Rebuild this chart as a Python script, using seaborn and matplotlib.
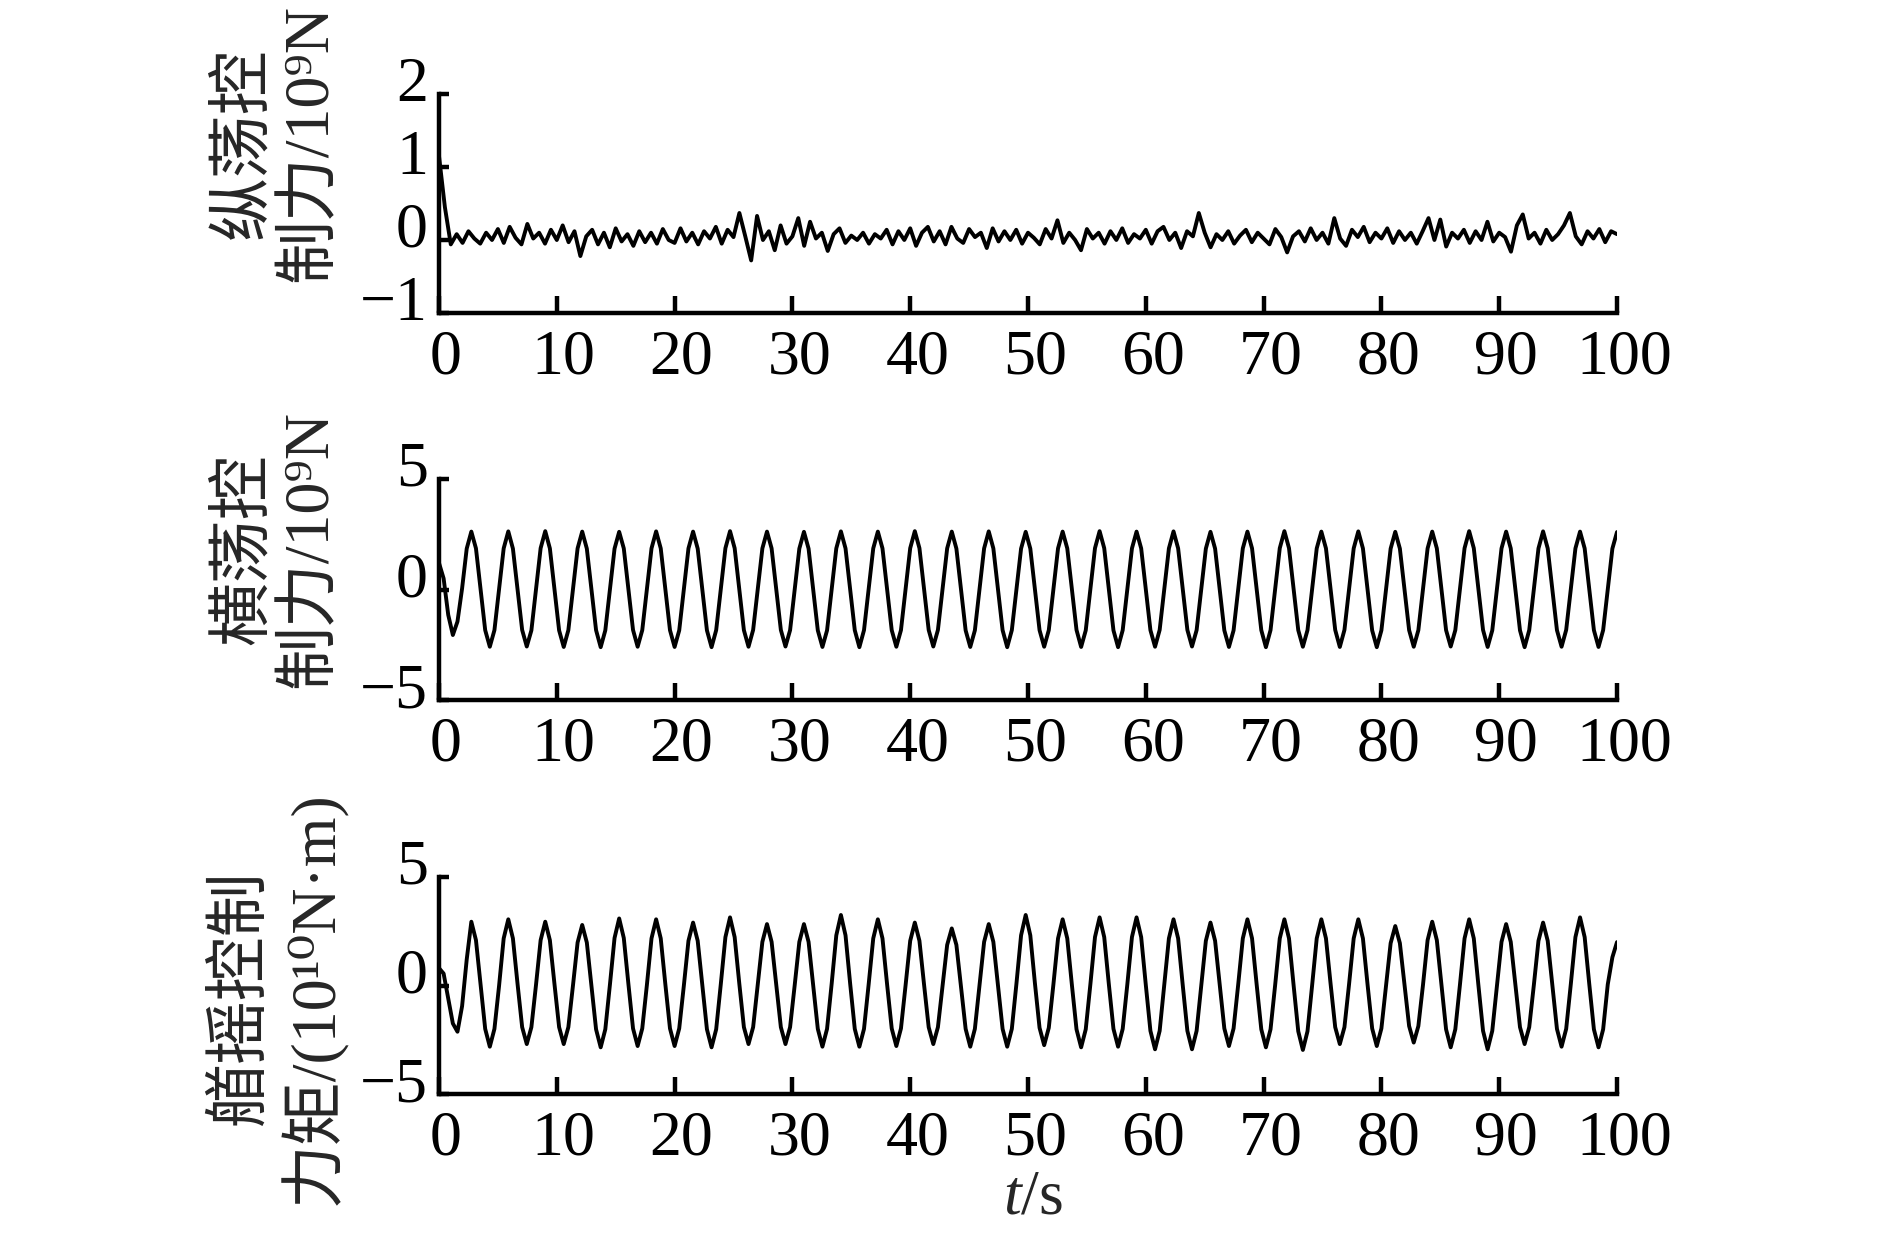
import numpy as np
import matplotlib
matplotlib.use("Agg")
import matplotlib.pyplot as plt
import seaborn as sns
from matplotlib.transforms import ScaledTranslation

# ------------------------------
# Data
# ------------------------------
# surge control force, 10^9 N, sampled every 0.5 s
t_surge = np.linspace(0, 100, 201)
surge_force = [
    1.15, 0.45, -0.06, 0.08, -0.04, 0.12, 0.02, -0.05, 0.10, 0.00, 0.15, -0.04, 0.18, 0.03, -0.06, 0.22, 0.02, 0.10, -0.05, 0.14,
    0.00, 0.20, -0.03, 0.12, -0.22, 0.05, 0.14, -0.06, 0.10, -0.10, 0.16, -0.02, 0.08, -0.08, 0.12, -0.03, 0.10, -0.05, 0.15, 0.00,
    -0.04, 0.16, -0.02, 0.10, -0.06, 0.12, 0.02, 0.18, -0.05, 0.14, 0.04, 0.37, 0.05, -0.28, 0.33, 0.00, 0.12, -0.14, 0.20, -0.05,
    0.05, 0.30, -0.08, 0.25, 0.02, 0.10, -0.15, 0.08, 0.16, -0.04, 0.06, 0.00, 0.10, -0.05, 0.08, 0.02, 0.14, -0.06, 0.12, 0.00,
    0.16, -0.08, 0.10, 0.18, -0.02, 0.12, -0.06, 0.18, 0.02, -0.04, 0.15, 0.04, 0.10, -0.11, 0.16, -0.02, 0.12, 0.00, 0.14, -0.05,
    0.10, 0.03, -0.06, 0.15, 0.02, 0.27, -0.04, 0.10, 0.00, -0.14, 0.15, 0.02, 0.10, -0.05, 0.12, 0.00, 0.16, -0.04, 0.08, 0.02,
    0.14, -0.05, 0.12, 0.18, 0.00, 0.10, -0.11, 0.12, 0.05, 0.37, 0.10, -0.10, 0.08, 0.00, 0.12, -0.05, 0.06, 0.14, -0.03, 0.10,
    0.02, -0.06, 0.15, 0.04, -0.17, 0.05, 0.12, -0.02, 0.16, 0.00, 0.10, -0.05, 0.30, 0.02, -0.08, 0.14, 0.04, 0.18, -0.03, 0.10,
    0.02, 0.16, -0.04, 0.12, 0.00, 0.10, -0.05, 0.12, 0.30, 0.00, 0.28, -0.09, 0.10, 0.02, 0.14, -0.04, 0.12, 0.00, 0.25, -0.02,
    0.10, 0.04, -0.16, 0.20, 0.35, 0.02, 0.10, -0.05, 0.14, 0.00, 0.08, 0.20, 0.37, 0.05, -0.06, 0.12, 0.02, 0.15, -0.03, 0.12,
    0.08,
]

# sway force (10^9 N) and yaw moment (10^10 N.m), 256 samples over 100 s
t_wave = np.linspace(0, 100, 256)
sway_force = [
    1.20, 0.50, -1.15, -2.06, -1.45, 0.05, 1.85,
    2.62, 1.86, 0.02, -1.84, -2.59, -1.84, 0.00, 1.86,
    2.63, 1.85, 0.01, -1.83, -2.58, -1.85, 0.01, 1.87,
    2.64, 1.86, 0.00, -1.85, -2.60, -1.84, 0.02, 1.86,
    2.62, 1.85, 0.02, -1.84, -2.61, -1.85, 0.00, 1.85,
    2.61, 1.86, 0.01, -1.83, -2.59, -1.84, 0.01, 1.86,
    2.63, 1.86, 0.00, -1.84, -2.60, -1.85, 0.02, 1.86,
    2.62, 1.85, 0.01, -1.85, -2.61, -1.84, 0.00, 1.87,
    2.64, 1.87, 0.02, -1.84, -2.59, -1.83, 0.01, 1.86,
    2.62, 1.86, 0.01, -1.83, -2.58, -1.84, 0.00, 1.85,
    2.61, 1.85, 0.00, -1.85, -2.60, -1.85, 0.01, 1.86,
    2.63, 1.86, 0.02, -1.84, -2.61, -1.84, 0.02, 1.86,
    2.62, 1.86, 0.01, -1.84, -2.59, -1.84, 0.00, 1.87,
    2.64, 1.87, 0.01, -1.83, -2.58, -1.83, 0.01, 1.86,
    2.62, 1.85, 0.00, -1.85, -2.60, -1.85, 0.02, 1.86,
    2.63, 1.86, 0.02, -1.84, -2.61, -1.84, 0.01, 1.85,
    2.61, 1.85, 0.01, -1.84, -2.59, -1.84, 0.00, 1.86,
    2.62, 1.86, 0.00, -1.83, -2.60, -1.85, 0.01, 1.87,
    2.64, 1.87, 0.02, -1.85, -2.61, -1.84, 0.02, 1.86,
    2.62, 1.86, 0.01, -1.84, -2.59, -1.83, 0.00, 1.86,
    2.63, 1.86, 0.00, -1.83, -2.58, -1.84, 0.01, 1.85,
    2.61, 1.85, 0.01, -1.85, -2.60, -1.85, 0.01, 1.86,
    2.62, 1.86, 0.02, -1.84, -2.61, -1.84, 0.02, 1.87,
    2.64, 1.87, 0.01, -1.84, -2.59, -1.84, 0.00, 1.86,
    2.62, 1.86, 0.00, -1.83, -2.60, -1.83, 0.01, 1.86,
    2.63, 1.86, 0.01, -1.85, -2.61, -1.85, 0.02, 1.85,
    2.61, 1.85, 0.02, -1.84, -2.59, -1.84, 0.00, 1.86,
    2.62, 1.86, 0.00, -1.84, -2.58, -1.84, 0.01, 1.87,
    2.64, 1.87, 0.01, -1.83, -2.60, -1.85, 0.01, 1.86,
    2.62, 1.86, 0.02, -1.85, -2.61, -1.84, 0.02, 1.86,
    2.63, 1.86, 0.01, -1.84, -2.59, -1.83, 0.00, 1.86,
    2.62, 1.86, 0.00, -1.84, -2.60, -1.84, 0.01, 1.85,
    2.60,
]
yaw_moment = [
    0.80, 0.55, -0.60, -1.75, -2.13, -0.95, 1.20,
    2.94, 2.09, 0.05, -2.00, -2.82, -2.00, -0.02, 2.17,
    3.05, 2.17, 0.08, -1.92, -2.70, -1.92, 0.03, 2.09,
    2.94, 2.09, 0.06, -1.92, -2.70, -1.92, 0.00, 1.98,
    2.79, 1.98, -0.03, -2.02, -2.85, -2.02, 0.04, 2.19,
    3.09, 2.19, 0.07, -1.98, -2.79, -1.98, 0.02, 2.17,
    3.05, 2.17, 0.05, -1.98, -2.79, -1.98, -0.01, 2.06,
    2.90, 2.06, 0.01, -2.02, -2.85, -2.02, 0.06, 2.23,
    3.14, 2.23, 0.10, -1.92, -2.70, -1.92, 0.03, 2.01,
    2.83, 2.01, 0.04, -1.92, -2.70, -1.92, 0.02, 2.01,
    2.83, 2.01, 0.00, -2.00, -2.82, -2.00, 0.08, 2.31,
    3.25, 2.31, 0.09, -2.00, -2.82, -2.00, 0.04, 2.17,
    3.05, 2.17, 0.05, -1.98, -2.79, -1.98, 0.01, 2.06,
    2.90, 2.06, 0.04, -1.92, -2.70, -1.92, -0.02, 1.87,
    2.63, 1.87, -0.05, -2.00, -2.82, -2.00, 0.00, 2.01,
    2.83, 2.01, 0.00, -2.00, -2.82, -2.00, 0.09, 2.31,
    3.25, 2.31, 0.10, -1.95, -2.75, -1.95, 0.05, 2.17,
    3.05, 2.17, 0.03, -2.02, -2.85, -2.02, 0.05, 2.23,
    3.14, 2.23, 0.06, -2.00, -2.82, -2.00, 0.05, 2.23,
    3.14, 2.23, 0.03, -2.09, -2.94, -2.09, 0.02, 2.17,
    3.05, 2.17, 0.01, -2.09, -2.94, -2.09, -0.01, 2.06,
    2.90, 2.06, 0.03, -1.98, -2.79, -1.98, 0.04, 2.17,
    3.05, 2.17, 0.04, -2.02, -2.85, -2.02, 0.02, 2.17,
    3.05, 2.17, 0.00, -2.11, -2.97, -2.11, 0.00, 2.17,
    3.05, 2.17, 0.08, -1.92, -2.70, -1.92, 0.06, 2.17,
    3.05, 2.17, 0.05, -1.98, -2.79, -1.98, -0.02, 1.95,
    2.74, 1.95, 0.05, -1.87, -2.63, -1.87, 0.02, 2.09,
    2.94, 2.09, 0.02, -2.02, -2.85, -2.02, 0.03, 2.17,
    3.05, 2.17, 0.01, -2.09, -2.94, -2.09, -0.02, 2.01,
    2.83, 2.01, 0.04, -1.92, -2.70, -1.92, 0.02, 2.06,
    2.90, 2.06, 0.02, -2.00, -2.82, -2.00, 0.06, 2.23,
    3.14, 2.23, 0.06, -2.02, -2.85, -2.02, 0.05, 1.30,
    2.00,
]

x_ticks = [0, 10, 20, 30, 40, 50, 60, 70, 80, 90, 100]
panel_yticks = [[-1, 0, 1, 2], [-5, 0, 5], [-5, 0, 5]]
panel_ylabels = ["纵荡控\n制力/10⁹N", "横荡控\n制力/10⁹N", "艏摇控制\n力矩/(10¹⁰N·m)"]
x_label = "$t$/s"

# ------------------------------
# Style
# ------------------------------
sns.set_style("ticks")
plt.rcParams["font.family"] = ["Liberation Serif", "DejaVu Serif", "Noto Sans CJK SC"]
plt.rcParams["mathtext.fontset"] = "custom"
plt.rcParams["mathtext.rm"] = "Liberation Serif"
plt.rcParams["mathtext.it"] = "Liberation Serif:italic"

FS = 46        # tick labels
LFS = 46       # axis labels
W, H = 1890, 1243
fig = plt.figure(figsize=(W / 100, H / 100), dpi=100)

# axes boxes in pixels: (top, bottom)
left_px, right_px = 439, 1617
boxes = [(94, 313), (479, 700), (877, 1094)]
label_centers = [(278, 143), (278, 549), (280, 998)]
series = [(t_surge, surge_force), (t_wave, sway_force), (t_wave, yaw_moment)]

x_shift = ScaledTranslation(7 / 100, 0, fig.dpi_scale_trans)
y_shift = ScaledTranslation(0, 15 / 100, fig.dpi_scale_trans)

for i, (top, bot) in enumerate(boxes):
    ax = fig.add_axes([left_px / W, 1 - bot / H, (right_px - left_px) / W, (bot - top) / H])
    tt, yy = series[i]
    sns.lineplot(x=tt, y=yy, ax=ax, color="black", linewidth=2.8)

    yt = panel_yticks[i]
    ax.set_xlim(0, 100)
    ax.set_ylim(yt[0], yt[-1])
    ax.set_xticks(x_ticks)
    ax.set_yticks(yt)
    ax.set_xticklabels([str(v) for v in x_ticks])
    ax.set_yticklabels([str(v).replace("-", "\u2212") for v in yt])

    for side in ["top", "right"]:
        ax.spines[side].set_visible(False)
    for side in ["left", "bottom"]:
        ax.spines[side].set_linewidth(3.2)
        ax.spines[side].set_color("black")

    ax.tick_params(axis="x", direction="in", length=12, width=3.2, pad=12,
                   labelsize=FS, colors="black")
    ax.tick_params(axis="y", direction="in", length=7, width=3.2, pad=8,
                   labelsize=FS, colors="black")
    for lab in ax.get_xticklabels():
        lab.set_transform(lab.get_transform() + x_shift)
    for lab in ax.get_yticklabels():
        lab.set_transform(lab.get_transform() + y_shift)

    ax.set_xlabel("")
    ax.set_ylabel("")
    cx, cy = label_centers[i]
    fig.text(cx / W, 1 - cy / H, panel_ylabels[i], rotation=90, ha="center", va="center",
             multialignment="center", fontsize=LFS, linespacing=1.15)

fig.text(1033 / W, 1 - 1199 / H, x_label, ha="center", va="center", fontsize=FS)

fig.savefig("out.png", dpi=100)
